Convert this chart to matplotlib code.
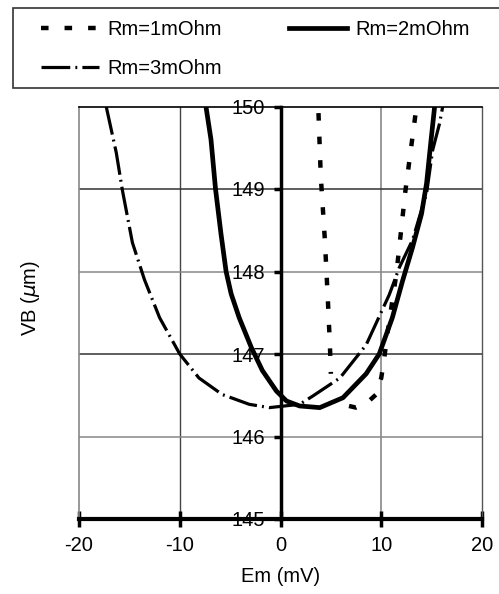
import matplotlib
matplotlib.use("Agg")
import matplotlib.pyplot as plt
from matplotlib.patches import Rectangle
import numpy as np

plt.rcParams["font.family"] = ["Liberation Sans", "DejaVu Sans"]
plt.rcParams["axes.unicode_minus"] = False

# Rm = 1 mOhm (narrow U between x = 4 and 13.5)
em_1 = [3.77, 4.0, 4.4, 4.7, 4.9, 5.0, np.nan, 6.8, 7.5, 8.5, 9.5, 10.0, 10.3, 10.6, 11.5, 12.4, 13.5]
vb_1 = [149.92, 149.15, 148.39, 147.66, 147.12, 146.76, np.nan, 146.37, 146.35, 146.4, 146.51, 146.71, 146.95, 147.24, 147.97, 148.98, 150.0]

# Rm = 2 mOhm
em_2 = [-7.4, -6.9, -6.45, -5.9, -5.4, -4.9, -4.1, -2.9, -1.8, -0.4, 0.6, 1.9, 3.9, 6.2, 8.5, 9.8,
        11.1, 12.1, 13.1, 14.0, 14.5, 14.95, 15.3]
vb_2 = [150.0, 149.6, 149.0, 148.45, 148.0, 147.73, 147.44, 147.08, 146.8, 146.55, 146.43, 146.37, 146.35,
        146.47, 146.76, 147.0, 147.44, 147.88, 148.29, 148.7, 149.07, 149.6, 150.0]

# Rm = 3 mOhm
em_3 = [-17.3, -16.3, -15.7, -14.7, -13.5, -12.0, -10.0, -8.1, -5.8, -3.1, -1.1, 1.9, 3.2, 5.9, 8.5,
        10.8, 11.8, 13.1, 14.5, 15.1, 15.8, 16.1]
vb_3 = [150.0, 149.44, 148.99, 148.35, 147.9, 147.44, 147.0, 146.71, 146.51, 146.39, 146.35, 146.39, 146.49,
        146.71, 147.11, 147.72, 148.05, 148.38, 148.95, 149.47, 149.8, 150.0]

labels = ["Rm=1mOhm", "Rm=2mOhm", "Rm=3mOhm"]
x_ticks = [-20, -10, 0, 10, 20]
y_ticks = [145, 146, 147, 148, 149, 150]

W, H = 499, 594
fig = plt.figure(figsize=(W / 100, H / 100), dpi=100)
ax = fig.add_axes([79 / W, 1 - 519 / H, 403 / W, 412.5 / H])

l1, = ax.plot(em_1, vb_1, color="black", lw=3.2, linestyle=(0, (1.7, 3.6)), zorder=3)
l2, = ax.plot(em_2, vb_2, color="black", lw=3.4, zorder=3)
l3, = ax.plot(em_3, vb_3, color="black", lw=2.3, linestyle=(0, (9, 1.6, 0.6, 1.6)), zorder=3)

ax.set_xlim(-20, 20)
ax.set_ylim(145, 150)
ax.set_xticks(x_ticks)
ax.set_yticks(y_ticks)

# grid lines
ax.axvline(-10, color="#444444", lw=1, zorder=0)
ax.axvline(10, color="#888888", lw=1.2, zorder=0)
for gy, c in [(146, "#888888"), (147, "#333333"), (148, "#888888"), (149, "#333333")]:
    ax.axhline(gy, color=c, lw=1.1, zorder=0)

# y axis sits at x = 0; thin frame around the plot
ax.spines["left"].set_position(("data", 0))
ax.spines["left"].set_linewidth(2.5)
ax.spines["bottom"].set_linewidth(3)
ax.spines["top"].set_linewidth(1.2)
ax.spines["right"].set_linewidth(1)
ax.spines["right"].set_color("#555555")
ax.plot([0, 0], [0, 1], transform=ax.transAxes, color="#888888", lw=1.2, clip_on=False)

ax.tick_params(axis="y", direction="out", length=5, width=2.5, labelsize=14.5, pad=6)
ax.tick_params(axis="x", direction="inout", length=11, width=2.5, labelsize=14.5, pad=7)

fig.text(30 / W, 1 - 298 / H, "VB ($\\mu$m)", rotation=90, ha="center", va="center", fontsize=14.5)
fig.text(281 / W, 1 - 577 / H, "Em (mV)", ha="center", va="center", fontsize=14.5)

# legend box (runs past the right edge, as in the source)
fig.patches.append(Rectangle((13 / W, 1 - 88 / H), 500 / W, 80 / H, transform=fig.transFigure,
                             facecolor="white", edgecolor="#333333", lw=1.2, zorder=0))
leg = fig.legend([l1, l3, l2], [labels[0], labels[2], labels[1]], ncol=2,
                 loc="upper left", bbox_to_anchor=(41 / W, 1 - 20 / H),
                 fontsize=14.5, handlelength=2.9, handletextpad=0.4, columnspacing=3.3,
                 frameon=False, borderaxespad=0, borderpad=0, labelspacing=1.0)

fig.savefig("out.png", dpi=100)
